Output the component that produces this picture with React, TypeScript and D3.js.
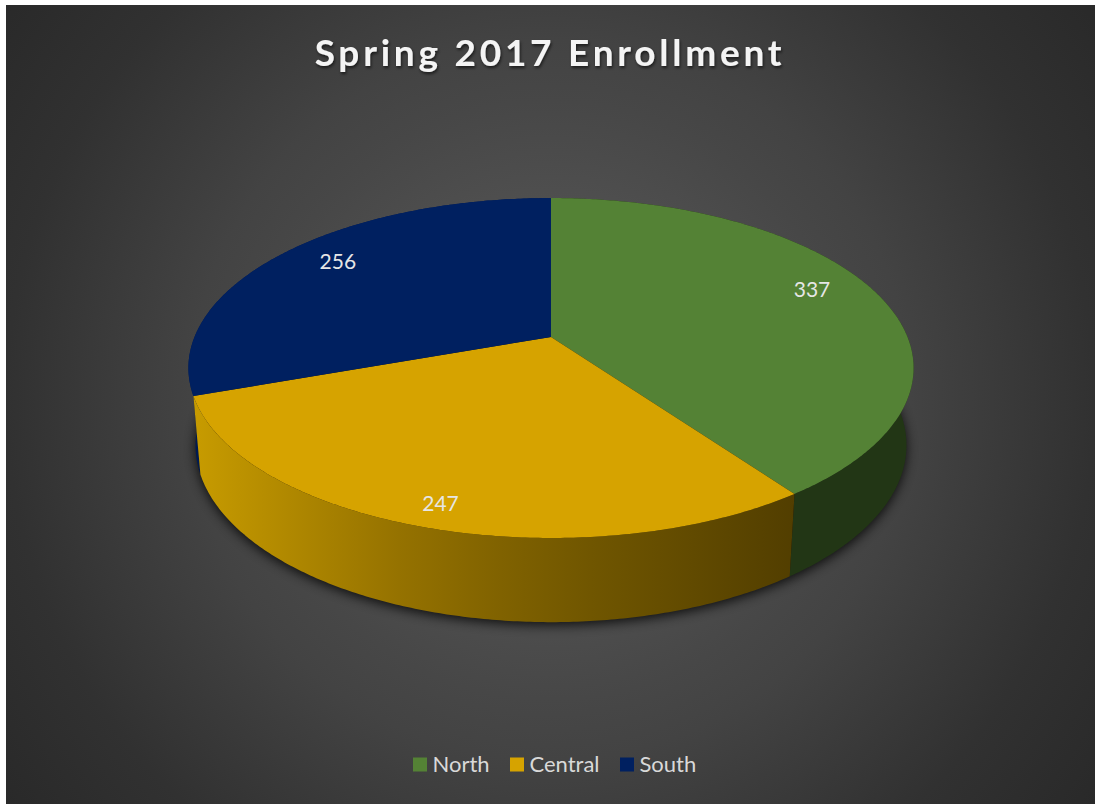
import React from "react";
import * as d3 from "d3";

const categories = ["North", "Central", "South"];
const values = [337, 247, 256];
const topColors = ["#548235", "#d6a300", "#002060"];
const labelRadii = [0.8, 0.9, 0.8];
const labelNudgesY = [-10, -2, -7];
const labelNudgesX = [1, 3, 2];

const W = 1095, H = 806;
const cx = 551;
const k = 0.1824;

type Disk = { y0: number; ax: number; ay: number };
const topDisk: Disk = { y0: 337, ax: 356.5, ay: 164.3 };
const botDisk: Disk = { y0: 413, ax: 349.5, ay: 171 };

// Perspective projection of a point on the unit disk (angle clockwise from 12 o'clock)
function project(d: Disk, a: number, r = 1): [number, number] {
  const X = Math.sin(a) * r, Y = -Math.cos(a) * r;
  const w = 1 - k * Y;
  return [cx + (d.ax * X) / w, d.y0 + (d.ay * Y) / w];
}

const arcs = d3.pie<number>().sort(null).value((v) => v)(values);

function samples(a0: number, a1: number) {
  const n = Math.max(2, Math.ceil((a1 - a0) / 0.01));
  return d3.range(n + 1).map((i) => a0 + ((a1 - a0) * i) / n);
}

function topPath(a0: number, a1: number) {
  const line = d3.line();
  return line([project(topDisk, 0, 0), ...samples(a0, a1).map((a) => project(topDisk, a))]) + "Z";
}

function sidePath(a0: number, a1: number) {
  const s = samples(a0, a1);
  const line = d3.line();
  let p = "";
  for (let i = 0; i < s.length - 1; i++) {
    p += line([
      project(topDisk, s[i]),
      project(topDisk, s[i + 1]),
      project(botDisk, s[i + 1]),
      project(botDisk, s[i]),
    ]) + "Z";
  }
  return p;
}

const bottomOutline = (d3.line()(samples(0, Math.PI * 2).map((a) => project(botDisk, a))) || "") + "Z";

const sideFills = ["#223615", "url(#sideYellow)", "#001a50"];
const sideOrder = [2, 0, 1];

export default function App() {
  const font = "Lato, 'Open Sans', sans-serif";
  return (
    <svg
      width={W}
      height={H}
      viewBox={`0 0 ${W} ${H}`}
      style={{ position: "absolute", left: 0, top: 0, display: "block" }}
    >
      <defs>
        <radialGradient id="bg" gradientUnits="userSpaceOnUse" cx={550} cy={400} r={680}>
          <stop offset="0" stopColor="#5a5a5a" />
          <stop offset="0.31" stopColor="#4e4e4e" />
          <stop offset="0.44" stopColor="#474747" />
          <stop offset="0.53" stopColor="#434343" />
          <stop offset="0.8" stopColor="#313131" />
          <stop offset="1" stopColor="#292929" />
        </radialGradient>
        <linearGradient id="sideYellow" gradientUnits="userSpaceOnUse" x1={195} y1={0} x2={795} y2={0}>
          <stop offset="0" stopColor="#c79b00" />
          <stop offset="0.34" stopColor="#957200" />
          <stop offset="0.51" stopColor="#806200" />
          <stop offset="0.66" stopColor="#705600" />
          <stop offset="1" stopColor="#523e00" />
        </linearGradient>
        <filter id="pieShadow" x="-10%" y="-10%" width="120%" height="120%">
          <feGaussianBlur stdDeviation="6" />
        </filter>
        <filter id="titleShadow" x="-5%" y="-20%" width="110%" height="140%">
          <feDropShadow dx="1" dy="2" stdDeviation="1.5" floodColor="#000" floodOpacity="0.6" />
        </filter>
      </defs>

      <rect x={6} y={5} width={W - 6} height={799} fill="url(#bg)" />

      <text
        x={550}
        y={66}
        textAnchor="middle"
        fontFamily={font}
        fontWeight={700}
        fontSize={37}
        letterSpacing={3.75}
        fill="#f4f4f4"
        filter="url(#titleShadow)"
      >
        Spring 2017 Enrollment
      </text>

      <path d={bottomOutline} fill="#000" opacity={0.8} transform="translate(0,3)" filter="url(#pieShadow)" />

      {sideOrder.map((i) => (
        <path
          key={categories[i]}
          d={sidePath(arcs[i].startAngle, arcs[i].endAngle)}
          fill={sideFills[i]}
        />
      ))}

      {arcs.map((a, i) => (
        <path key={categories[i]} d={topPath(a.startAngle, a.endAngle)} fill={topColors[i]} />
      ))}

      {arcs.map((a, i) => {
        const [x, y] = project(topDisk, (a.startAngle + a.endAngle) / 2, labelRadii[i]);
        return (
          <text
            key={categories[i]}
            x={x + labelNudgesX[i]}
            y={y + labelNudgesY[i]}
            textAnchor="middle"
            dominantBaseline="central"
            fontFamily={font}
            fontSize={21}
            fill="#e6e6e6"
          >
            {values[i]}
          </text>
        );
      })}

      {categories.map((c, i) => {
        const xs = [413, 510, 620];
        return (
          <g key={c}>
            <rect x={xs[i]} y={757.5} width={14} height={14} fill={topColors[i]} />
            <text
              x={xs[i] + 19.5}
              y={763.5}
              dominantBaseline="central"
              fontFamily={font}
              fontSize={22}
              fill="#d9d9d9"
            >
              {c}
            </text>
          </g>
        );
      })}
    </svg>
  );
}
